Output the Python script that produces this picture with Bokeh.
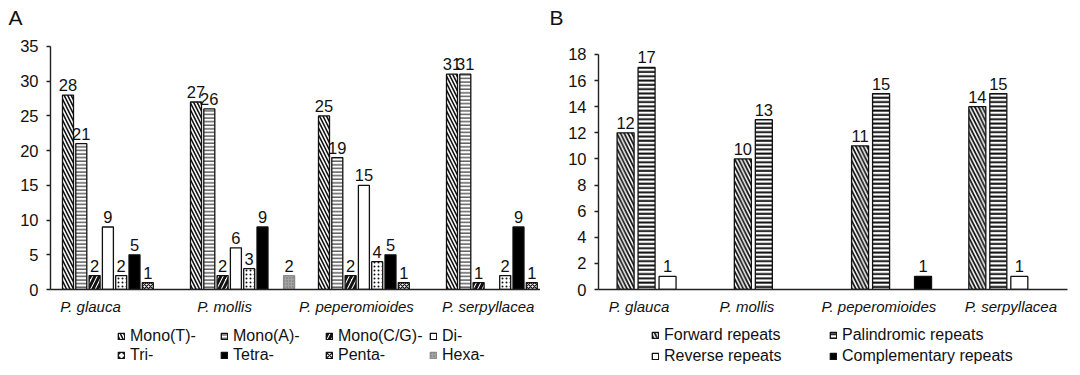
from bokeh.plotting import figure
from bokeh.layouts import row, column
from bokeh.models import ColumnDataSource, FixedTicker, Legend, LegendItem, Range1d
from bokeh.core.properties import value
from bokeh.embed import file_html
from bokeh.resources import INLINE

# ---------------- data ----------------
species = ["P. glauca", "P. mollis", "P. peperomioides", "P. serpyllacea"]

ssr_types = ["Mono(T)-", "Mono(A)-", "Mono(C/G)-", "Di-", "Tri-", "Tetra-", "Penta-", "Hexa-"]
mono_t = [28, 27, 25, 31]
mono_a = [21, 26, 19, 31]
mono_cg = [2, 2, 2, 1]
di = [9, 6, 15, 0]
tri = [2, 3, 4, 2]
tetra = [5, 9, 5, 9]
penta = [1, 0, 1, 1]
hexa = [0, 2, 0, 0]

repeat_types = ["Forward repeats", "Palindromic repeats", "Reverse repeats", "Complementary repeats"]
forward = [12, 10, 11, 14]
palindromic = [17, 13, 15, 15]
reverse = [1, 0, 0, 1]
complementary = [0, 0, 1, 0]

yticks_a = [0, 5, 10, 15, 20, 25, 30, 35]
yticks_b = [0, 2, 4, 6, 8, 10, 12, 14, 16, 18]

# ---------------- style ----------------
FONT = "Liberation Sans"
INK = "#111111"
W = "white"
styles_a = [
    dict(fill_color=W, hatch_pattern="\\", hatch_scale=7, hatch_weight=1.6),
    dict(fill_color=W, hatch_pattern="-", hatch_scale=3.6, hatch_weight=1),
    dict(fill_color=W, hatch_pattern="/", hatch_scale=9, hatch_weight=3),
    dict(fill_color=W),
    dict(fill_color=W, hatch_pattern=".", hatch_scale=4, hatch_weight=1),
    dict(fill_color="black"),
    dict(fill_color=W, hatch_pattern="x", hatch_scale=4, hatch_weight=1.2),
    dict(fill_color="#a3a3a3", line_color="#8c8c8c", hatch_pattern=".", hatch_color="#6e6e6e",
         hatch_scale=3, hatch_weight=1),
]
styles_b = [
    dict(fill_color=W, hatch_pattern="\\", hatch_scale=7.5, hatch_weight=1.8),
    dict(fill_color=W, hatch_pattern="-", hatch_scale=4.3, hatch_weight=2),
    dict(fill_color=W),
    dict(fill_color="black"),
]


def bar_style(st):
    kw = dict(line_color=INK, line_width=1.3, hatch_color=INK)
    kw.update(st)
    return kw


def legend_fig(width, height, names, styles, cols, y, row_h):
    f = figure(width=width, height=height, x_range=Range1d(0, 1), y_range=Range1d(0, 1),
               output_backend="svg", toolbar_location=None, tools="",
               x_axis_location=None, y_axis_location=None,
               min_border_left=0, min_border_right=0, min_border_top=0, min_border_bottom=0)
    f.outline_line_color = None
    f.grid.visible = False
    f.background_fill_color = "white"
    f.border_fill_color = "white"
    # hidden legend proxies (never drawn, only their style is used by the legend)
    rends = []
    for st in styles:
        r = f.vbar(x=[0.5], top=[0.5], width=0.1, **bar_style(st))
        r.visible = False
        rends.append(r)
    ncols = len(cols)
    nrows = (len(names) + ncols - 1) // ncols
    for c, lx in enumerate(cols):
        idx = [r_ * ncols + c for r_ in range(nrows) if r_ * ncols + c < len(names)]
        items = [LegendItem(label=names[i], renderers=[rends[i]]) for i in idx]
        lg = Legend(items=items, location=(lx, y), orientation="vertical",
                    glyph_width=8, glyph_height=8, label_standoff=5, spacing=0,
                    padding=0, margin=0, label_height=row_h,
                    border_line_color=None, background_fill_alpha=0,
                    inactive_fill_alpha=0,
                    label_text_font=FONT, label_text_font_size="16px",
                    label_text_color=INK)
        f.add_layout(lg, "center")
    return f


def make_panel(series, styles, width, height, borders, x_end, y_end, y_bound, yticks,
               first, step, bar_w, tick_pos, letter, letter_offset):
    p = figure(width=width, height=height, x_range=Range1d(0, x_end), y_range=Range1d(0, y_end),
               output_backend="svg", toolbar_location=None, tools="", title=letter,
               min_border_left=borders[0], min_border_right=borders[1],
               min_border_top=borders[2], min_border_bottom=borders[3])
    p.outline_line_color = None
    p.grid.visible = False
    p.background_fill_color = "white"
    p.border_fill_color = "white"
    p.title.align = "left"
    p.title.offset = letter_offset
    p.title.standoff = 0
    p.title.text_font = FONT
    p.title.text_font_size = "21px"
    p.title.text_font_style = "normal"
    p.title.text_color = INK

    n = len(species)
    for k, (vals, st) in enumerate(zip(series, styles)):
        xs = [i + first + k * step for i in range(n)]
        bx = [x for x, v in zip(xs, vals) if v > 0]
        bv = [v for v in vals if v > 0]
        if not bv:
            continue
        src = ColumnDataSource(dict(x=bx, top=bv, t=[str(v) for v in bv]))
        p.vbar(x="x", top="top", width=bar_w, source=src, **bar_style(st))
        p.text(x="x", y="top", text="t", source=src, text_align="center",
               text_baseline="alphabetic", y_offset=-10, text_font=value(FONT),
               text_font_size="16.5px", text_color=INK)

    xa = p.xaxis[0]
    xa.ticker = FixedTicker(ticks=tick_pos)
    xa.major_label_overrides = {t: s for t, s in zip(tick_pos, species)}
    xa.major_tick_line_color = None
    xa.minor_tick_line_color = None
    xa.major_tick_out = 0
    xa.major_tick_in = 0
    xa.major_label_standoff = 8
    xa.major_label_text_font = FONT
    xa.major_label_text_font_style = "italic"
    xa.major_label_text_font_size = "15px"
    xa.major_label_text_color = INK
    xa.axis_line_color = "#222222"
    xa.axis_line_width = 1.4

    ya = p.yaxis[0]
    ya.ticker = FixedTicker(ticks=yticks)
    ya.bounds = y_bound
    ya.minor_tick_line_color = None
    ya.major_tick_out = 4
    ya.major_tick_in = 0
    ya.major_tick_line_color = "#222222"
    ya.major_tick_line_width = 1.3
    ya.major_label_standoff = 8
    ya.major_label_text_font = FONT
    ya.major_label_text_font_size = "16.5px"
    ya.major_label_text_color = INK
    ya.axis_line_color = "#222222"
    ya.axis_line_width = 1.4
    return p


H_MAIN, H_LEG = 320, 55

pA = make_panel([mono_t, mono_a, mono_cg, di, tri, tetra, penta, hexa], styles_a,
                width=540, height=H_MAIN, borders=(50, 0, 28, 30),
                x_end=490 / 128, y_end=262 / 6.971, y_bound=(0, 35), yticks=yticks_a,
                first=0.1367, step=0.1039, bar_w=0.086,
                tick_pos=[0.3125, 1.36, 2.39, 3.42], letter="A", letter_offset=-42)

pB = make_panel([forward, palindromic, reverse, complementary], styles_b,
                width=540, height=H_MAIN, borders=(58, 13, 28, 31),
                x_end=4, y_end=261 / 13.06, y_bound=(0, 18), yticks=yticks_b,
                first=0.231, step=0.179, bar_w=0.145,
                tick_pos=[0.345, 1.266, 2.391, 3.517], letter="B", letter_offset=-49)

lA = legend_fig(540, H_LEG, ssr_types, styles_a, cols=[117, 220, 325, 429], y=10.5, row_h=19)
lB = legend_fig(540, H_LEG, repeat_types, styles_b, cols=[111, 289], y=8.5, row_h=21)

layout = column(row(pA, pB, spacing=0), row(lA, lB, spacing=0), spacing=0)
open("out.html", "w").write(file_html(layout, INLINE))
